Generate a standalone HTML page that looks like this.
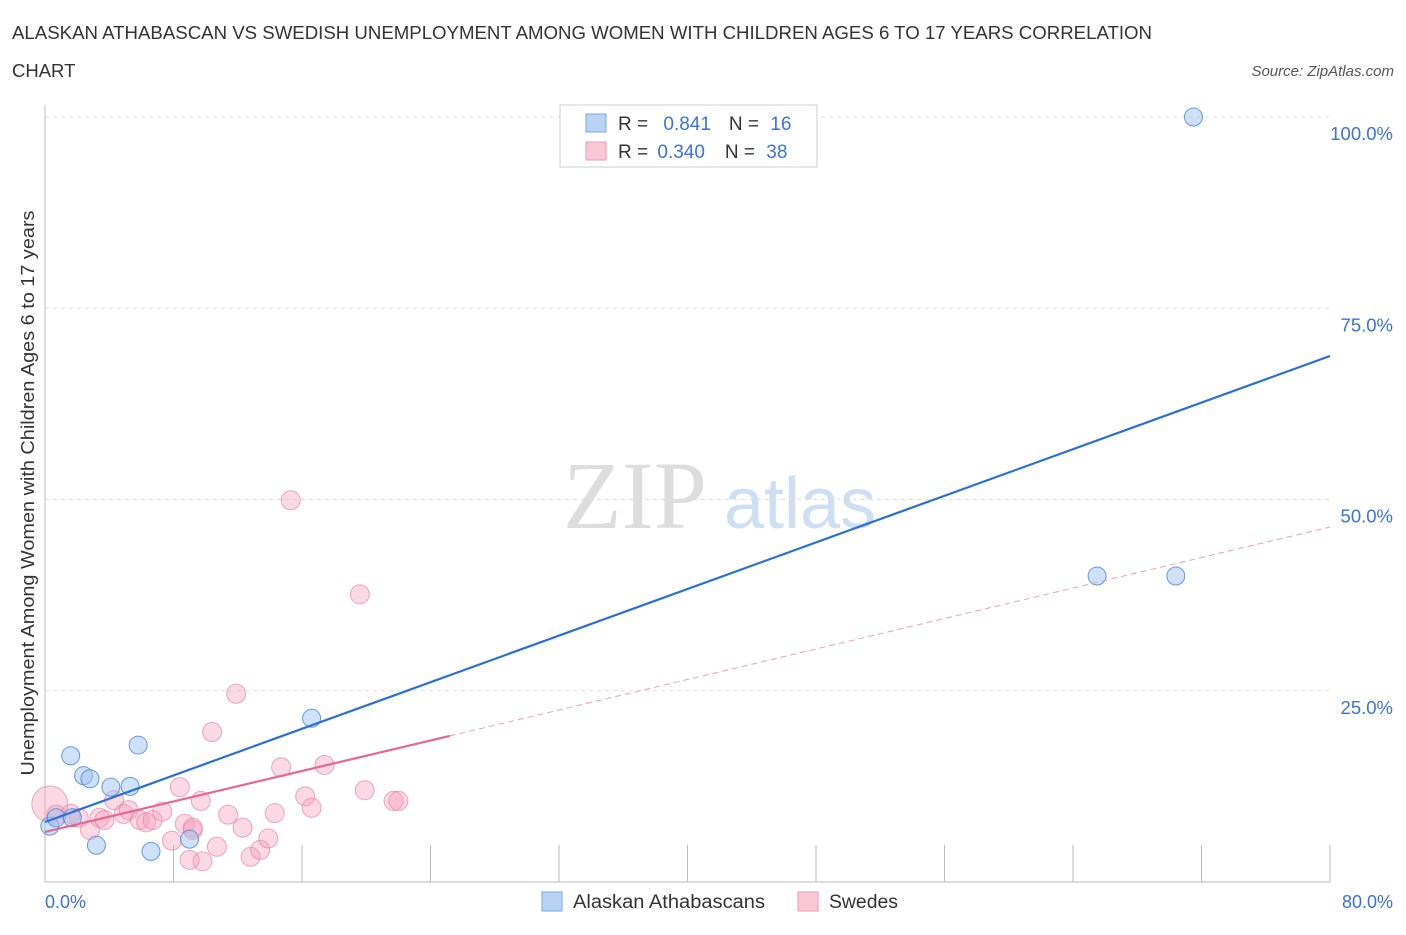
<!DOCTYPE html>
<html><head><meta charset="utf-8"><style>
body{margin:0;background:#fff;font-family:"Liberation Sans",sans-serif;}
</style></head><body>
<svg id="chart" width="1406" height="930" xmlns="http://www.w3.org/2000/svg">
<text x="12" y="39" font-size="18.5" fill="#333" textLength="1140" lengthAdjust="spacingAndGlyphs">ALASKAN ATHABASCAN VS SWEDISH UNEMPLOYMENT AMONG WOMEN WITH CHILDREN AGES 6 TO 17 YEARS CORRELATION</text>
<text x="12" y="77" font-size="18.5" fill="#333">CHART</text>
<text x="1394" y="76" font-size="15" fill="#555" font-style="italic" text-anchor="end">Source: ZipAtlas.com</text>
<text x="635" y="528" font-size="96" fill="#ddd" font-family="Liberation Serif" text-anchor="middle">ZIP</text>
<text x="800" y="528" font-size="72" fill="#cfdff3" text-anchor="middle">atlas</text>
<g id="grid"></g><g id="axes"></g><g id="pts"></g><g id="lines"></g>
<text transform="translate(34,493) rotate(-90)" font-size="18.5" fill="#333" text-anchor="middle" textLength="565" lengthAdjust="spacingAndGlyphs">Unemployment Among Women with Children Ages 6 to 17 years</text>
<text x="45" y="908" font-size="18" fill="#3b72d9">0.0%</text>
<text x="1393" y="908" font-size="18" fill="#3b72d9" text-anchor="end">80.0%</text>
<g>
<rect x="560" y="105" width="257" height="62" fill="#fff" stroke="#ccc"/>
<rect x="586" y="114" width="20" height="18" fill="#b9d3f5" stroke="#7aa6e6"/>
<rect x="586" y="142" width="20" height="18" fill="#f9c6d6" stroke="#ee9ab4"/>
<text x="618" y="130" font-size="19" fill="#333">R = <tspan fill="#3b72d9" dx="10">0.841</tspan><tspan dx="18" fill="#333">N = </tspan><tspan fill="#3b72d9" dx="6">16</tspan></text>
<text x="618" y="158" font-size="19" fill="#333">R = <tspan fill="#3b72d9" dx="4">0.340</tspan><tspan dx="20" fill="#333">N = </tspan><tspan fill="#3b72d9" dx="6">38</tspan></text>
</g>
<g>
<rect x="542" y="892" width="20" height="19" fill="#b9d3f5" stroke="#7aa6e6"/>
<text x="573" y="908" font-size="19" fill="#333" textLength="192" lengthAdjust="spacingAndGlyphs">Alaskan Athabascans</text>
<rect x="798" y="892" width="20" height="19" fill="#f9c6d6" stroke="#ee9ab4"/>
<text x="829" y="908" font-size="19" fill="#333" textLength="69" lengthAdjust="spacingAndGlyphs">Swedes</text>
</g>
</svg>
<script>
const yTicks=[25,50,75,100];
const yTickLabels=["25.0%","50.0%","75.0%","100.0%"];
const blueX=[0.3,0.7,1.6,2.4,2.8,4.1,5.3,5.8,3.2,6.6,9.0,16.6,65.5,70.4,71.5,1.7];
const blueY=[7.3,8.4,16.5,13.9,13.5,12.4,12.5,17.9,4.8,4.0,5.6,21.4,40.0,40.0,100.0,8.4];
const pinkX=[0.3,0.7,1.6,2.1,2.8,3.4,3.7,4.3,4.9,5.2,5.9,6.3,6.7,7.3,8.4,7.9,8.7,9.2,9.7,10.4,9.8,10.7,11.4,11.9,12.3,12.8,13.4,13.9,14.3,14.7,16.2,16.6,17.4,15.3,19.6,19.9,21.7,22.0,9.0,9.2];
const pinkY=[10.2,8.8,8.9,8.4,6.8,8.4,8.1,10.7,8.9,9.4,8.1,7.8,8.1,9.2,12.4,5.4,7.6,6.8,10.6,19.6,2.7,4.6,8.8,24.6,7.1,3.3,4.2,5.7,9.0,15.0,11.2,9.7,15.3,49.9,37.6,12.0,10.6,10.6,2.9,7.1];
const blueLine=[7.84,68.76];
const pinkLine=[6.54,46.4];
const X=v=>45+v/80*1285, Y=v=>882-v/100*765;
const NS="http://www.w3.org/2000/svg";
function mk(t,a,p){const e=document.createElementNS(NS,t);for(const k in a)e.setAttribute(k,a[k]);p.appendChild(e);return e;}
const g=document.getElementById('grid'),ax=document.getElementById('axes'),pts=document.getElementById('pts'),ln=document.getElementById('lines');
yTicks.forEach((t,i)=>{
 const l=mk('line',{x1:45,x2:1330,y1:Y(t),y2:Y(t),stroke:'#ddd','stroke-dasharray':'4,4'},g);
 
 
 const tx=mk('text',{x:1393,y:Y(t)+23,'font-size':18.5,fill:'#3b72d9','text-anchor':'end'},g);
 tx.textContent=yTickLabels[i];
 
 
});
const a1=mk('line',{x1:45,x2:45,y1:105,y2:882,stroke:'#bbb'},ax);


const a2=mk('line',{x1:45,x2:1330,y1:882,y2:882,stroke:'#bbb'},ax);


for(let i=1;i<=10;i++){const t=mk('line',{x1:X(i*8),x2:X(i*8),y1:845,y2:882,stroke:'#bbb'},ax);
 
 }
pinkX.forEach((x,i)=>{const c=mk('circle',{cx:X(x),cy:Y(pinkY[i]),r:i==0?18:9.5,fill:'rgba(244,160,188,0.4)',stroke:'rgba(232,130,165,0.7)','stroke-width':1},pts);
 
 });
blueX.forEach((x,i)=>{const c=mk('circle',{cx:X(x),cy:Y(blueY[i]),r:9,fill:'rgba(160,196,240,0.5)',stroke:'rgba(70,130,215,0.8)','stroke-width':1},pts);
 
 });
const bl=mk('line',{x1:X(0),y1:Y(blueLine[0]),x2:X(80),y2:Y(blueLine[1]),stroke:'#2a6fd6','stroke-width':2.2},ln);


const pm=v=>pinkLine[0]+(pinkLine[1]-pinkLine[0])*v/80;
const ps=mk('line',{x1:X(0),y1:Y(pm(0)),x2:X(25.2),y2:Y(pm(25.2)),stroke:'#e8668f','stroke-width':2.2},ln);


const pd=mk('line',{x1:X(25.2),y1:Y(pm(25.2)),x2:X(80),y2:Y(pm(80)),stroke:'#e8a0b6','stroke-width':1,'stroke-dasharray':'6,4'},ln);


</script>
</body></html>
